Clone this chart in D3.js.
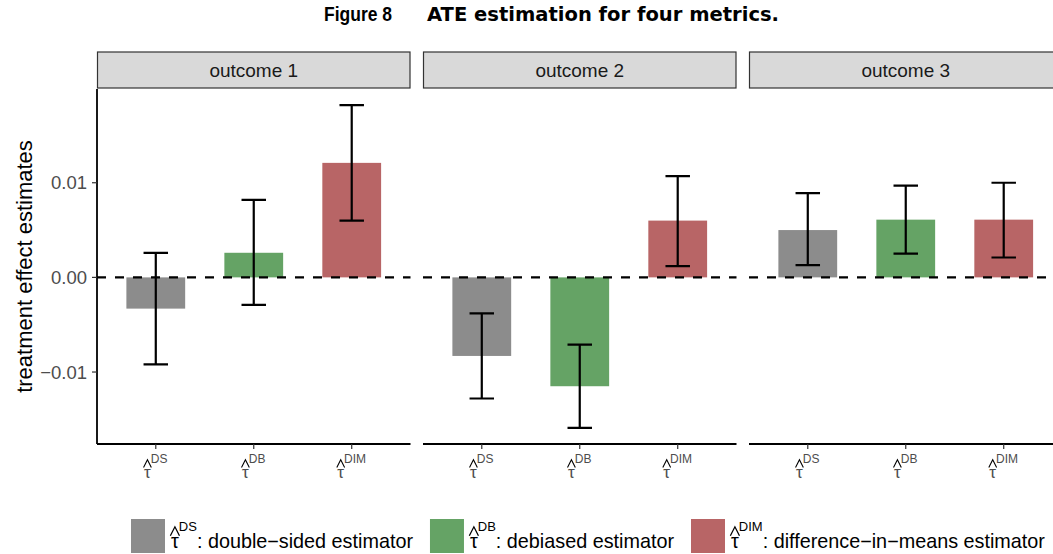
<!DOCTYPE html>
<html>
<head>
<meta charset="utf-8">
<script src="https://cdn.jsdelivr.net/npm/d3@7"></script>
<style>
  body { margin: 0; background: #fff; }
  svg { display: block; overflow: hidden; }
  text { font-family: "Liberation Sans", Arial, sans-serif; }
</style>
</head>
<body>
<svg id="chart" width="1053" height="554"></svg>
<script>
'use strict';

// data
var outcomes = ['outcome 1', 'outcome 2', 'outcome 3'];
var estimators = ['DS', 'DB', 'DIM'];
var estimates = [
  [-0.0033, 0.0026, 0.0121],
  [-0.0083, -0.0115, 0.0060],
  [0.0050, 0.0061, 0.0061]
];
var lowerCI = [
  [-0.0092, -0.0029, 0.0060],
  [-0.0128, -0.0159, 0.0012],
  [0.0013, 0.0025, 0.0021]
];
var upperCI = [
  [0.0026, 0.0082, 0.0182],
  [-0.0038, -0.0071, 0.0107],
  [0.0089, 0.0097, 0.0100]
];
var yTicks = [-0.01, 0, 0.01];
var legendLabels = [': double\u2212sided estimator', ': debiased estimator', ': difference\u2212in\u2212means estimator'];

var svg = d3.select('#chart');

var panelLeft = 97, panelW = 313.5, panelGap = 12.5;
var panelTop = 89, panelBottom = 444;
var stripTop = 52, stripBottom = 88;

var color = d3.scaleOrdinal().domain(estimators).range(['#8c8c8c', '#65a365', '#b86566']);

// ggplot-like 5% expansion of the y range
var allVals = d3.merge([d3.merge(lowerCI), d3.merge(upperCI), d3.merge(estimates), [0]]);
var ymin = d3.min(allVals), ymax = d3.max(allVals);
var pad = (ymax - ymin) * 0.05;
var y = d3.scaleLinear().domain([ymin - pad, ymax + pad]).range([panelBottom, panelTop]);

// title
svg.append('text')
  .attr('x', 324).attr('y', 21)
  .attr('textLength', 68).attr('lengthAdjust', 'spacingAndGlyphs')
  .style('font-weight', 'bold').style('font-size', '19.5px')
  .text('Figure 8');
svg.append('text')
  .attr('x', 427).attr('y', 21)
  .attr('textLength', 352).attr('lengthAdjust', 'spacingAndGlyphs')
  .style('font-family', '"DejaVu Sans", sans-serif')
  .style('font-weight', 'bold').style('font-size', '19.5px')
  .text('ATE estimation for four metrics.');

// hatted tau with superscript
function tauLabel(g, cx, baseline, size, supSize, sup, anchor) {
  var t = g.append('text')
    .attr('x', cx).attr('y', baseline)
    .attr('text-anchor', anchor || 'middle')
    .style('font-size', size + 'px');
  t.append('tspan').text('\u03c4');
  t.append('tspan')
    .attr('dy', -size * 0.88)
    .style('font-size', supSize + 'px')
    .text(sup);
  var node = t.node();
  var s = node.getStartPositionOfChar(0).x, e = node.getEndPositionOfChar(0).x;
  var mid = (s + e) / 2, hw = size * 0.23;
  var bottom = baseline - size * 0.62;
  var top = bottom - size * 0.45;
  g.append('path')
    .attr('d', 'M' + (mid - hw) + ',' + bottom + 'L' + mid + ',' + top + 'L' + (mid + hw) + ',' + bottom)
    .attr('fill', 'none')
    .attr('stroke', t.style('fill'))
    .attr('stroke-width', Math.max(1, size * 0.065));
  return t;
}

outcomes.forEach(function (name, p) {
  var x0 = panelLeft + p * (panelW + panelGap);
  // categories sit 0.6 units from the panel edges, like ggplot's discrete expansion
  var unit = panelW / 3.2;
  var x = d3.scalePoint().domain(estimators).range([x0 + unit * 0.6, x0 + panelW - unit * 0.6]);

  var g = svg.append('g');

  // strip
  g.append('rect')
    .attr('x', x0 + 0.5).attr('y', stripTop)
    .attr('width', panelW - 1).attr('height', stripBottom - stripTop)
    .attr('fill', '#d9d9d9').attr('stroke', '#333333').attr('stroke-width', 1.2);
  g.append('text')
    .attr('x', x0 + panelW / 2).attr('y', (stripTop + stripBottom) / 2 + 7)
    .attr('text-anchor', 'middle')
    .style('font-size', '19px').style('fill', '#1a1a1a')
    .text(name);

  // bars
  g.selectAll('rect.bar')
    .data(estimates[p])
    .join('rect')
    .attr('class', 'bar')
    .attr('x', function (d, i) { return x(estimators[i]) - unit * 0.3; })
    .attr('width', unit * 0.6)
    .attr('y', function (d) { return y(Math.max(0, d)); })
    .attr('height', function (d) { return Math.abs(y(d) - y(0)); })
    .attr('fill', function (d, i) { return color(estimators[i]); });

  // zero reference line
  g.append('line')
    .attr('x1', x0).attr('x2', x0 + panelW)
    .attr('y1', y(0)).attr('y2', y(0))
    .attr('stroke', '#000').attr('stroke-width', 2.4)
    .attr('stroke-dasharray', '9,9');

  // error bars
  estimators.forEach(function (est, i) {
    var cx = x(est);
    var lo = y(lowerCI[p][i]), hi = y(upperCI[p][i]);
    var hw = unit * 0.125;
    g.append('path')
      .attr('d', 'M' + (cx - hw) + ',' + hi + 'H' + (cx + hw) +
                 'M' + cx + ',' + hi + 'V' + lo +
                 'M' + (cx - hw) + ',' + lo + 'H' + (cx + hw))
      .attr('fill', 'none').attr('stroke', '#000').attr('stroke-width', 2.2);
  });

  // bottom axis
  g.append('line')
    .attr('x1', x0).attr('x2', x0 + panelW)
    .attr('y1', panelBottom).attr('y2', panelBottom)
    .attr('stroke', '#000').attr('stroke-width', 1.8);
  estimators.forEach(function (est) {
    g.append('line')
      .attr('x1', x(est)).attr('x2', x(est))
      .attr('y1', panelBottom).attr('y2', panelBottom + 5)
      .attr('stroke', '#333').attr('stroke-width', 1.2);
    var lg = g.append('g');
    tauLabel(lg, x(est), 478, 17, 12, est).style('fill', '#4d4d4d');
  });

  // left axis only on the first panel
  if (p === 0) {
    g.append('line')
      .attr('x1', x0).attr('x2', x0)
      .attr('y1', panelTop).attr('y2', panelBottom)
      .attr('stroke', '#000').attr('stroke-width', 1.8);
    yTicks.forEach(function (t) {
      g.append('line')
        .attr('x1', x0 - 5).attr('x2', x0)
        .attr('y1', y(t)).attr('y2', y(t))
        .attr('stroke', '#333').attr('stroke-width', 1.2);
      g.append('text')
        .attr('x', x0 - 10).attr('y', y(t) + 6.5)
        .attr('text-anchor', 'end')
        .style('font-size', '18.5px').style('fill', '#4d4d4d')
        .text(d3.format('.2f')(t).replace('-', '\u2212'));
    });
  }
});

// y axis title
svg.append('text')
  .attr('transform', 'translate(32,' + ((panelTop + panelBottom) / 2) + ') rotate(-90)')
  .attr('text-anchor', 'middle')
  .style('font-size', '22px').style('fill', '#000')
  .text('treatment effect estimates');

// legend
var lx = 131, legendSize = 19.8;
estimators.forEach(function (est, i) {
  var lg = svg.append('g');
  lg.append('rect')
    .attr('x', lx).attr('y', 519)
    .attr('width', 34).attr('height', 34)
    .attr('fill', color(est));
  var t = tauLabel(lg, lx + 40, 548, legendSize, 13, est, 'start');
  t.append('tspan').attr('dy', legendSize * 0.88).style('font-size', legendSize + 'px').text(legendLabels[i]);
  lx += 34 + 6 + t.node().getComputedTextLength() + 17;
});
</script>
</body>
</html>
